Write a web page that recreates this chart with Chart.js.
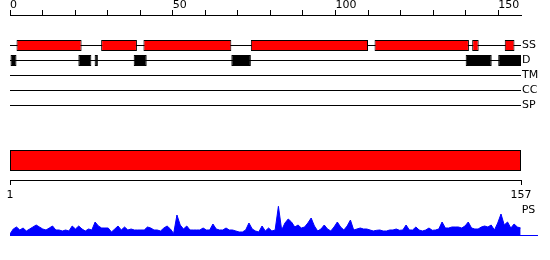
<!DOCTYPE html>
<html><head><meta charset="utf-8">
<script src="https://cdn.jsdelivr.net/npm/chart.js@4"></script>
<style>
html,body{margin:0;padding:0;background:#fff;width:550px;height:260px;overflow:hidden;position:relative}
canvas{position:absolute;left:0}
</style></head><body>
<canvas id="top" width="550" height="115" style="top:0"></canvas>
<canvas id="mid" width="550" height="64" style="top:141px"></canvas>
<canvas id="ps" width="550" height="45" style="top:200px"></canvas>
<script>
// ---- data ----
const SEQ_LENGTH = 157;
const TRACKS = ['SS', 'D', 'TM', 'CC', 'SP'];
const SS_SEGMENTS = [[2,22],[28,39],[41,68],[74,110],[112,141],[142,144],[152,155]];
const D_SEGMENTS  = [[0,2],[21,25],[26,27],[38,42],[68,74],[140,148],[150,157]];
const TM_SEGMENTS = [];
const CC_SEGMENTS = [];
const SP_SEGMENTS = [];
const TOP_TICK_LABELS = [0, 50, 100, 150];
const CHAIN_SEGMENTS = [[1,157]];
const BOTTOM_TICKS = [1, 157];
const PS_LABEL = 'PS';
const PS_VALUES = [
  1,6,8,5,7,4,6,8,10,8,
  6,5,7,9,5,5,4,5,4,9,
  6,9,6,4,6,5,13,9,7,7,
  7,3,6,9,5,8,5,6,5,5,
  5,5,8,7,5,5,4,7,9,6,
  1.5,20,10,6,9,5,5,5,5,7,
  5,5,11,6,5,5,7,5,5,4,
  3,3,5,12,6,4,3,9,4,7,
  4,5,28.7,5,12,16,13,8,10,7,
  8,12,17,9,4,6,10,6,4,8,
  13,8,5,9,15,5,6,7,6,6,
  5,4,4.7,5,4,4,5,5,6,4.7,
  5,10,5,5,8,5,4,5,7,4.7,
  5,6,13,7,7,8,8,8,7,9,
  13,7,6,6,8,9,8,10,5,12,
  21,10,13,7,11,8,7
];

const FONT = {family: '"DejaVu Sans", sans-serif', size: 11};
const BLACK = '#000000', RED = '#ff0000', BLUE = '#0000ff';

function segData(segs, track) {
  const row = TRACKS.indexOf(track);
  return segs.map(s => ({x: s, y: row}));
}

// ---- top: feature tracks ----
new Chart(document.getElementById('top'), {
  type: 'bar',
  data: {
    datasets: [
      {label: 'SS', data: segData(SS_SEGMENTS, 'SS'), backgroundColor: RED, borderColor: BLACK, borderWidth: 1},
      {label: 'D', data: segData(D_SEGMENTS, 'D'), backgroundColor: BLACK, borderColor: BLACK, borderWidth: 1},
      {label: 'TM', data: segData(TM_SEGMENTS, 'TM'), backgroundColor: BLACK},
      {label: 'CC', data: segData(CC_SEGMENTS, 'CC'), backgroundColor: BLACK},
      {label: 'SP', data: segData(SP_SEGMENTS, 'SP'), backgroundColor: BLACK}
    ]
  },
  options: {
    indexAxis: 'y', responsive: false, animation: false,
    layout: {padding: {left: 10, right: 0, top: 0, bottom: 0}},
    plugins: {legend: {display: false}, tooltip: {enabled: false}},
    datasets: {bar: {barThickness: 11, grouped: false, borderSkipped: false, inflateAmount: 0}},
    scales: {
      x: {
        type: 'linear', position: 'top', min: 0, max: SEQ_LENGTH,
        ticks: {stepSize: 10, includeBounds: false, align: 'start', padding: -2, color: BLACK, font: FONT,
          autoSkip: false, maxRotation: 0,
          callback: v => TOP_TICK_LABELS.includes(v) ? String(v) : ''},
        grid: {drawOnChartArea: false, drawTicks: true, tickLength: 5, color: BLACK},
        border: {display: true, color: BLACK, width: 1},
        afterFit: s => { s.height = 15; s.paddingLeft = 0; s.paddingRight = 0; }
      },
      y: {
        type: 'linear', position: 'right', reverse: true, offset: false, min: -61/30, max: 139/30,
        ticks: {stepSize: 1, includeBounds: false, padding: 1, color: BLACK, font: FONT, autoSkip: false,
          callback: v => TRACKS[v] !== undefined ? TRACKS[v] : ''},
        grid: {drawTicks: false, lineWidth: 1, offset: false,
          color: c => (c.tick && TRACKS[c.tick.value] !== undefined) ? BLACK : 'rgba(0,0,0,0)'},
        border: {display: false},
        afterFit: s => { s.width = 29; s.paddingTop = 0; s.paddingBottom = 0; }
      }
    }
  }
});

// ---- middle: chain bar with bottom axis ----
new Chart(document.getElementById('mid'), {
  type: 'bar',
  data: {
    labels: ['chain'],
    datasets: [{data: CHAIN_SEGMENTS.map(s => ({x: s, y: 'chain'})), backgroundColor: RED, borderColor: BLACK, borderWidth: 1}]
  },
  options: {
    indexAxis: 'y', responsive: false, animation: false,
    layout: {padding: {left: 10, right: 29, top: 0, bottom: 0}},
    plugins: {legend: {display: false}, tooltip: {enabled: false}},
    datasets: {bar: {barThickness: 21, borderSkipped: false, inflateAmount: 0}},
    scales: {
      x: {
        type: 'linear', position: 'bottom', min: BOTTOM_TICKS[0], max: BOTTOM_TICKS[BOTTOM_TICKS.length - 1],
        afterBuildTicks: s => { s.ticks = BOTTOM_TICKS.map(v => ({value: v})); },
        ticks: {padding: 4, color: BLACK, font: FONT, maxRotation: 0, autoSkip: false},
        grid: {drawOnChartArea: false, drawTicks: true, tickLength: 5, color: BLACK},
        border: {display: true, color: BLACK, width: 1},
        afterFit: s => { s.height = 25; }
      },
      y: {type: 'category', display: false, offset: true}
    }
  }
});

// ---- bottom: PS profile ----
const psLabelPlugin = {
  id: 'psLabel',
  afterDraw(chart) {
    const {ctx, chartArea, scales} = chart;
    ctx.save();
    ctx.font = '11px "DejaVu Sans", sans-serif';
    ctx.fillStyle = BLACK;
    ctx.textAlign = 'left';
    ctx.textBaseline = 'middle';
    ctx.fillText(PS_LABEL, scales.x.getPixelForValue(SEQ_LENGTH) + 1, chartArea.top + 10);
    ctx.restore();
  }
};

new Chart(document.getElementById('ps'), {
  type: 'line',
  data: {
    datasets: [{
      label: PS_LABEL,
      data: PS_VALUES.map((v, i) => ({x: i + 1, y: v})),
      fill: 'origin', backgroundColor: BLUE, borderColor: BLUE, borderWidth: 1,
      pointRadius: 0, tension: 0
    }]
  },
  options: {
    responsive: false, animation: false,
    layout: {padding: {left: 10, right: 13, top: 0, bottom: 10}},
    plugins: {legend: {display: false}, tooltip: {enabled: false}},
    scales: {
      x: {
        type: 'linear', min: 1, max: 162,
        ticks: {display: false},
        grid: {display: false},
        border: {display: true, color: BLUE, width: 1},
        afterFit: s => { s.height = 0; }
      },
      y: {display: false, min: 0, max: 35}
    }
  },
  plugins: [psLabelPlugin]
});
</script>
</body></html>
